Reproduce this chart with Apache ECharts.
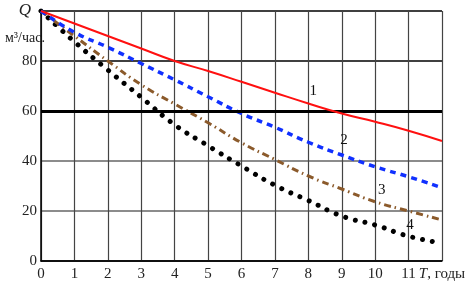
<!DOCTYPE html>
<html>
<head>
<meta charset="utf-8">
<script src="https://cdn.jsdelivr.net/npm/echarts@6/dist/echarts.min.js"></script>
<style>
  html, body { margin: 0; padding: 0; background: #fff; }
  #chart { width: 473px; height: 291px; }
</style>
</head>
<body>
<div id="chart"></div>
<script>
var T = [0, 1, 2, 3, 4, 5, 6, 7, 8, 9, 10, 11, 12];
var Q1 = [100, 95, 90, 85, 80, 76, 71.7, 67.3, 63, 59, 55.7, 52.1, 48];
var Q2 = [100, 91.5, 85.5, 79, 72.5, 65.7, 59, 53.5, 47.5, 42.4, 37.7, 33.7, 29.3];
var Q3 = [100, 90, 80, 70.5, 62.8, 55.3, 47.3, 40.6, 34, 28.8, 23.7, 20, 16.4];
var Q4 = [100, 87.7, 76.4, 65.5, 54.5, 46.1, 38, 30.3, 24.2, 18, 14.4, 9.9, 7.2];
var curveNames = ['1', '2', '3', '4'];
var labelPos = [[8.15, 68], [9.07, 48.4], [10.2, 28.4], [11.04, 14.4]];
var refLevel = 60;

var chart = echarts.init(document.getElementById('chart'));

function pairs(ys) {
  return T.map(function (t, i) { return [t, ys[i]]; });
}

var serif = '"Liberation Serif", "DejaVu Serif", serif';
var styles = [
  { color: '#ff1010', width: 2, type: 'solid' },
  { color: '#1030ff', width: 3.5, type: [6, 5] },
  { color: '#8b5a2b', width: 3, type: [7, 4, 1.5, 4] },
  { color: '#000000', width: 5, type: [0.01, 10], cap: 'round' }
];
var allData = [Q1, Q2, Q3, Q4];

var series = allData.map(function (ys, i) {
  return {
    name: curveNames[i],
    type: 'line',
    smooth: true,
    symbol: 'none',
    data: pairs(ys),
    lineStyle: styles[i],
    z: 5 - i,
    markPoint: {
      symbol: 'circle',
      symbolSize: 0,
      label: {
        show: true,
        formatter: curveNames[i],
        fontFamily: serif,
        fontSize: 15,
        color: '#111'
      },
      data: [{ coord: labelPos[i] }]
    }
  };
});

series[0].markLine = {
  silent: true,
  symbol: 'none',
  label: { show: false },
  lineStyle: { color: '#000', width: 3, type: 'solid' },
  data: [{ yAxis: refLevel }]
};

var option = {
  backgroundColor: '#fff',
  animation: false,
  title: {
    text: 'м³/час.',
    left: 0,
    top: 26,
    textStyle: { fontFamily: serif, fontSize: 14, fontWeight: 'normal', color: '#222' }
  },
  grid: { left: 41, right: 31, top: 11, bottom: 30 },
  xAxis: {
    type: 'value',
    min: 0,
    max: 12,
    interval: 1,
    axisLine: { lineStyle: { color: '#000', width: 1.5 } },
    axisTick: { show: false },
    splitLine: { show: true, lineStyle: { color: '#444', width: 1.2 } },
    axisLabel: {
      fontFamily: serif,
      fontSize: 15,
      color: '#222',
      margin: 6,
      formatter: function (v) {
        return v === 12 ? '{i|T}, годы' : String(v);
      },
      rich: {
        i: { fontFamily: serif, fontSize: 15, fontStyle: 'italic', color: '#222' }
      }
    }
  },
  yAxis: {
    type: 'value',
    min: 0,
    max: 100,
    interval: 20,
    axisLine: { show: true, lineStyle: { color: '#000', width: 1.5 } },
    axisTick: { show: false },
    splitLine: {
      show: true,
      lineStyle: { color: ['#000', '#666', '#666', '#000', '#000', '#000'], width: 1.5 }
    },
    axisLabel: {
      fontFamily: serif,
      fontSize: 15,
      color: '#222',
      margin: 4,
      formatter: function (v) {
        return v === 100 ? '{q|Q}' : String(v);
      },
      rich: {
        q: { fontFamily: serif, fontSize: 17, fontStyle: 'italic', color: '#222', padding: [0, 6, 0, 0] }
      }
    }
  },
  series: series
};

chart.setOption(option);
</script>
</body>
</html>
